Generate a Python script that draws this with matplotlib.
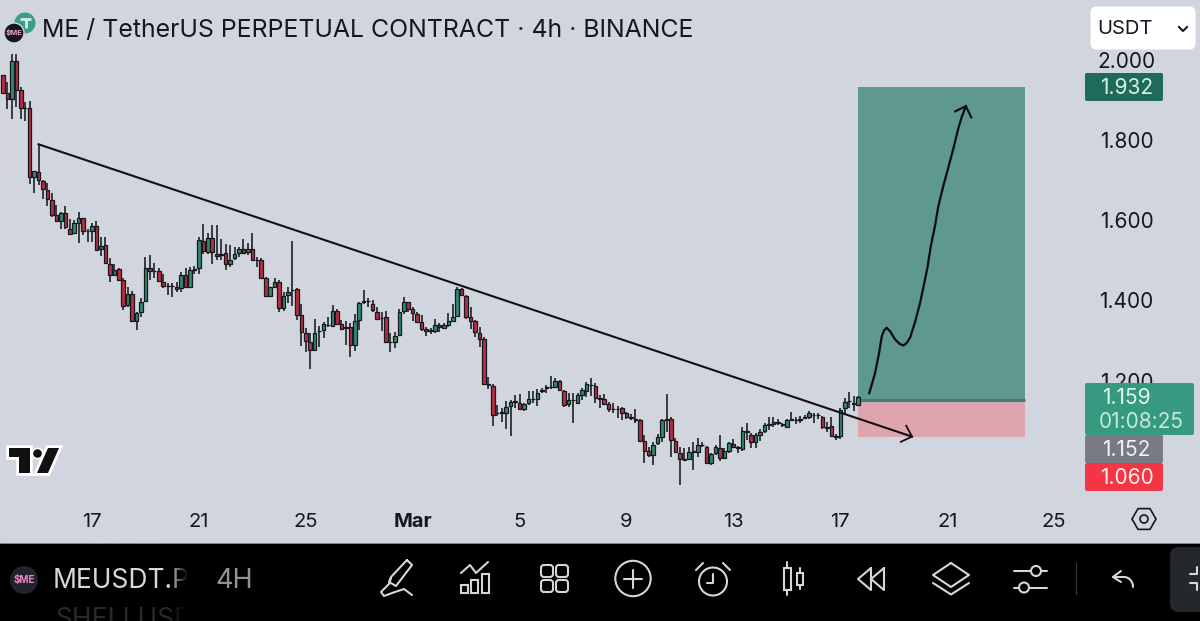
import numpy as np
import matplotlib
matplotlib.use("Agg")
import matplotlib.pyplot as plt
from matplotlib.patches import Circle, FancyBboxPatch, Polygon, Rectangle
from matplotlib.transforms import blended_transform_factory

plt.rcParams['font.family'] = ['Inter', 'DejaVu Sans']

# 4h candles
opens = [1.962,1.918,1.903,1.997,1.925,1.881,1.881,1.709,1.722,1.699,1.677,1.651,1.614,1.600,1.619,1.580,1.570,1.595,1.607,1.575,
         1.573,1.586,1.528,1.538,1.493,1.464,1.480,1.453,1.389,1.417,1.351,1.373,1.400,1.482,1.475,1.475,1.447,1.437,1.437,1.429,
         1.431,1.464,1.435,1.478,1.481,1.549,1.522,1.556,1.518,1.514,1.520,1.492,1.506,1.520,1.528,1.521,1.529,1.503,1.502,1.458,
         1.412,1.435,1.448,1.383,1.414,1.426,1.429,1.366,1.321,1.298,1.277,1.325,1.327,1.340,1.337,1.374,1.342,1.334,1.336,1.289,
         1.352,1.399,1.400,1.392,1.372,1.358,1.359,1.298,1.297,1.314,1.375,1.396,1.379,1.367,1.348,1.331,1.327,1.325,1.341,1.333,
         1.340,1.351,1.362,1.429,1.413,1.361,1.350,1.321,1.304,1.192,1.189,1.122,1.122,1.120,1.138,1.149,1.146,1.130,1.145,1.156,
         1.156,1.177,1.185,1.185,1.186,1.200,1.176,1.142,1.153,1.146,1.165,1.176,1.190,1.189,1.157,1.155,1.143,1.131,1.131,1.132,
         1.120,1.110,1.105,1.103,1.051,1.026,1.016,1.045,1.062,1.105,1.107,1.051,1.022,1.005,1.007,1.025,1.024,1.041,1.037,0.997,
         1.020,1.034,1.008,1.027,1.043,1.035,1.030,1.075,1.067,1.049,1.066,1.076,1.093,1.093,1.098,1.092,1.087,1.105,1.103,1.105,
         1.110,1.111,1.116,1.117,1.111,1.085,1.088,1.063,1.063,1.132,1.150,1.145,1.141]
highs = [1.962,1.946,2.016,2.016,1.932,1.896,1.898,1.723,1.790,1.701,1.694,1.669,1.639,1.622,1.637,1.605,1.601,1.622,1.607,1.580,
         1.595,1.599,1.560,1.560,1.506,1.492,1.482,1.456,1.435,1.425,1.373,1.406,1.510,1.514,1.495,1.483,1.466,1.445,1.444,1.448,
         1.473,1.481,1.485,1.487,1.560,1.591,1.570,1.589,1.589,1.553,1.541,1.539,1.535,1.535,1.554,1.545,1.570,1.510,1.506,1.460,
         1.435,1.456,1.453,1.423,1.435,1.549,1.431,1.391,1.333,1.321,1.354,1.337,1.348,1.359,1.390,1.380,1.352,1.350,1.344,1.367,
         1.398,1.428,1.406,1.402,1.385,1.373,1.375,1.320,1.323,1.381,1.409,1.398,1.385,1.373,1.365,1.336,1.333,1.354,1.344,1.346,
         1.369,1.392,1.435,1.431,1.414,1.385,1.352,1.336,1.309,1.211,1.193,1.140,1.132,1.151,1.153,1.165,1.168,1.146,1.176,1.175,
         1.180,1.182,1.190,1.213,1.207,1.203,1.179,1.171,1.170,1.170,1.182,1.199,1.209,1.195,1.165,1.167,1.149,1.145,1.138,1.135,
         1.124,1.118,1.130,1.105,1.066,1.037,1.049,1.068,1.107,1.167,1.110,1.058,1.037,1.033,1.035,1.049,1.058,1.049,1.038,1.022,
         1.041,1.067,1.033,1.049,1.055,1.038,1.085,1.095,1.072,1.072,1.080,1.097,1.110,1.110,1.105,1.097,1.105,1.124,1.110,1.113,
         1.116,1.126,1.121,1.122,1.113,1.099,1.111,1.068,1.132,1.157,1.174,1.163,1.163]
lows = [1.917,1.879,1.852,1.883,1.853,1.849,1.691,1.668,1.688,1.653,1.637,1.609,1.597,1.578,1.580,1.564,1.566,1.543,1.564,1.547,
        1.546,1.525,1.512,1.493,1.448,1.462,1.452,1.377,1.384,1.348,1.327,1.361,1.398,1.453,1.456,1.448,1.431,1.414,1.410,1.423,
        1.423,1.431,1.431,1.468,1.467,1.518,1.518,1.493,1.502,1.502,1.477,1.485,1.502,1.510,1.518,1.514,1.499,1.485,1.456,1.410,
        1.410,1.431,1.373,1.375,1.394,1.387,1.352,1.287,1.273,1.230,1.276,1.284,1.307,1.336,1.336,1.340,1.327,1.290,1.261,1.276,
        1.327,1.392,1.385,1.373,1.352,1.326,1.296,1.273,1.282,1.312,1.367,1.373,1.351,1.344,1.326,1.312,1.317,1.321,1.323,1.329,
        1.336,1.348,1.359,1.412,1.356,1.331,1.309,1.286,1.190,1.180,1.089,1.113,1.099,1.082,1.063,1.132,1.128,1.126,1.141,1.145,
        1.138,1.171,1.170,1.180,1.182,1.175,1.135,1.136,1.097,1.143,1.153,1.161,1.163,1.146,1.134,1.141,1.124,1.121,1.109,1.103,
        1.105,1.103,1.095,1.049,0.997,1.012,0.991,1.041,1.049,1.074,1.010,1.022,0.941,1.002,1.005,0.980,1.010,1.035,0.995,0.991,
        1.016,1.000,1.005,1.022,1.033,1.020,1.027,1.053,1.033,1.033,1.052,1.072,1.078,1.085,1.091,1.085,1.085,1.101,1.093,1.097,
        1.105,1.107,1.097,1.107,1.082,1.074,1.062,1.053,1.055,1.118,1.132,1.126,1.139]
closes = [1.918,1.903,1.997,1.925,1.881,1.880,1.709,1.723,1.701,1.678,1.654,1.615,1.599,1.620,1.583,1.566,1.595,1.606,1.575,1.574,
          1.586,1.527,1.537,1.495,1.464,1.478,1.453,1.388,1.417,1.351,1.370,1.398,1.482,1.475,1.474,1.450,1.437,1.436,1.436,1.434,
          1.464,1.435,1.477,1.479,1.551,1.525,1.557,1.521,1.512,1.518,1.492,1.503,1.517,1.528,1.520,1.528,1.502,1.502,1.458,1.412,
          1.434,1.448,1.383,1.412,1.423,1.427,1.366,1.323,1.300,1.277,1.321,1.326,1.342,1.339,1.374,1.342,1.329,1.333,1.289,1.350,
          1.394,1.398,1.399,1.377,1.355,1.357,1.298,1.297,1.313,1.373,1.396,1.380,1.369,1.348,1.331,1.325,1.326,1.341,1.334,1.340,
          1.350,1.361,1.429,1.414,1.361,1.351,1.323,1.304,1.193,1.191,1.116,1.121,1.123,1.135,1.149,1.150,1.130,1.143,1.156,1.155,
          1.171,1.176,1.184,1.186,1.201,1.178,1.141,1.153,1.152,1.165,1.178,1.193,1.191,1.157,1.156,1.143,1.131,1.130,1.130,1.121,
          1.110,1.109,1.104,1.051,1.027,1.016,1.041,1.060,1.103,1.104,1.053,1.024,1.005,1.004,1.024,1.024,1.041,1.040,0.997,1.019,
          1.037,1.008,1.027,1.045,1.035,1.034,1.077,1.074,1.049,1.067,1.074,1.091,1.092,1.099,1.097,1.093,1.103,1.104,1.104,1.104,
          1.109,1.120,1.115,1.116,1.085,1.084,1.063,1.062,1.128,1.149,1.151,1.144,1.160]

# trendline and hand drawn arrows
trend_x = [8, 204.1]
trend_y = [1.790, 1.062]
trend_head_x = [201.6, 204.1, 202.8]
trend_head_y = [1.049, 1.062, 1.089]
curve_x = [194.5,195.8,196.7,197.3,197.8,198.4,199.2,200.3,201.3,202.2,202.9,203.7,204.8,205.9,207.0,207.6,208.3,209.3,210.0,211.1,212.3,213.4,214.5,215.3,216.2]
curve_y = [1.170,1.220,1.270,1.311,1.326,1.333,1.324,1.304,1.293,1.289,1.295,1.309,1.348,1.394,1.452,1.485,1.535,1.589,1.635,1.685,1.734,1.780,1.830,1.859,1.885]
curve_head_x = [213.8, 216.2, 217.4]
curve_head_y = [1.872, 1.885, 1.857]

# long position tool
pos_start = 192
pos_end = 229.5
target = 1.932
entry = 1.152
stop = 1.060

x_ticks = [20, 44, 68, 92, 116, 140, 164, 188, 212, 236]
x_labels = ["17", "21", "25", "Mar", "5", "9", "13", "17", "21", "25"]
y_ticks = [2.0, 1.8, 1.6, 1.4, 1.2]
y_labels = ["2.000", "1.800", "1.600", "1.400", "1.200"]

BG = "#d1d5de"
UP = "#2f8a72"
DOWN = "#b92c42"
INK = "#131722"
ICON = "#d6d6d6"

fig = plt.figure(figsize=(12, 6.21), dpi=100, facecolor=BG)

# price chart fills the whole picture, scales fitted to the screenshot
ax = fig.add_axes([0, 0, 1, 1], facecolor=BG)
ax.set_xlim(-0.658, 268.76)
ax.set_ylim(0.6027, 2.1494)
ax.axis("off")

# pixel axes for the app chrome
ui = fig.add_axes([0, 0, 1, 1], facecolor="none")
ui.set_xlim(0, 1200)
ui.set_ylim(621, 0)
ui.axis("off")

# position boxes
ax.add_patch(Rectangle((pos_start, entry), pos_end - pos_start, target - entry, fc="#5e9890", ec="none", zorder=1))
ax.add_patch(Rectangle((pos_start, stop), pos_end - pos_start, entry - stop, fc="#dfa5af", ec="none", zorder=1))
ax.plot([pos_start, pos_end], [entry, entry], color="#3f7f74", lw=2.2, solid_capstyle="butt", zorder=1.5)

# candles
idx = np.arange(len(opens))
opens_a = np.array(opens)
closes_a = np.array(closes)
colors = [UP if c >= o else DOWN for o, c in zip(opens, closes)]
ax.vlines(idx, lows, highs, color="#15181d", lw=1.15, zorder=2)
ax.bar(idx, closes_a - opens_a, bottom=opens_a, width=0.8, color=colors, edgecolor="#15181d", linewidth=0.9, zorder=3)

# drawings
ax.plot(trend_x, trend_y, color="#111111", lw=1.5, zorder=4)
ax.plot(trend_head_x, trend_head_y, color="#111111", lw=1.3, zorder=4)
ax.plot(curve_x, curve_y, color="#0c0c0c", lw=1.6, solid_joinstyle="round", zorder=4)
ax.plot(curve_head_x, curve_head_y, color="#0c0c0c", lw=1.5, zorder=4)

# axis labels
y_tr = blended_transform_factory(ui.transData, ax.transData)
for t, lab in zip(y_ticks, y_labels):
    ax.text(1126.5, t - 0.004, lab, transform=y_tr, ha="center", va="center", fontsize=15, color=INK, zorder=5)
x_tr = blended_transform_factory(ax.transData, ui.transData)
for t, lab in zip(x_ticks, x_labels):
    ax.text(t, 522, lab, transform=x_tr, ha="center", va="center", fontsize=14.5, color=INK,
            fontweight="bold" if lab == "Mar" else "normal", zorder=5)

# title and logos
ui.text(42, 30, "ME / TetherUS PERPETUAL CONTRACT · 4h · BINANCE", ha="left", va="center", fontsize=17.9, color=INK)
ui.add_patch(Circle((25, 23), 10.5, fc="#3a9d86", ec="none"))
ui.plot([20, 31], [19, 19], color="#d6ebe6", lw=2, solid_capstyle="butt")
ui.plot([25.5, 25.5], [19, 28], color="#d6ebe6", lw=2, solid_capstyle="butt")
ui.add_patch(Circle((14, 33), 10, fc="#16161c", ec=BG, lw=1))
ui.text(14, 33, "$ME", ha="center", va="center", fontsize=5.5, color="#e8a0c8", fontweight="bold")

# tradingview mark
tv_t = [(9, 448), (30, 448), (30, 473), (19, 473), (19, 457), (9, 457)]
tv_s = [(48, 448), (59, 448), (48, 473), (37, 473)]
for pts in (tv_t, tv_s):
    ui.add_patch(Polygon(pts, closed=True, fc="white", ec="white", lw=4, joinstyle="miter"))
ui.add_patch(Circle((37.5, 453.5), 6, fc="white", ec="none"))
for pts in (tv_t, tv_s):
    ui.add_patch(Polygon(pts, closed=True, fc="#111111", ec="none"))
ui.add_patch(Circle((37.5, 453.5), 4.3, fc="#111111", ec="none"))

# currency dropdown
ui.add_patch(FancyBboxPatch((1094, 10), 98, 36, boxstyle="round,pad=3.5,rounding_size=6", fc="white", ec="none", zorder=6))
ui.text(1097, 29.5, "USDT", ha="left", va="center", fontsize=14.5, color=INK, zorder=7)
ui.plot([1179, 1183, 1187], [27, 31, 27], color=INK, lw=1.5, zorder=7)


def label(y0, y1, color, x1=1163):
    ui.add_patch(FancyBboxPatch((1087, y0 + 2), x1 - 1089, y1 - y0 - 4, boxstyle="round,pad=2,rounding_size=2",
                                fc=color, ec="none", zorder=6))


label(73, 101, "#1f6b5a")
ui.text(1126.5, 88.5, "1.932", ha="center", va="center", fontsize=15, color="#d9efe9", zorder=7)
label(435, 463, "#787b86")
ui.text(1126.5, 450, "1.152", ha="center", va="center", fontsize=15, color="#f2f2f4", zorder=7)
label(463, 491, "#f23645")
ui.text(1126.5, 478, "1.060", ha="center", va="center", fontsize=15, color="#fbeaec", zorder=7)
label(383, 435, "#369a80", x1=1194)
ui.text(1126.5, 398.5, "1.159", ha="center", va="center", fontsize=15, color="#e4f4ef", zorder=7)
ui.text(1141.5, 422, "01:08:25", ha="center", va="center", fontsize=15, color="#c6e8de", zorder=7)

# settings hexagon
ang = np.radians(np.arange(0, 360, 60))
ui.add_patch(Polygon(np.c_[1144 + 12 * np.cos(ang), 519 + 12 * np.sin(ang)], closed=True, fc="none", ec=INK, lw=1.2))
ui.add_patch(Circle((1144, 519), 4, fc="none", ec=INK, lw=1.2))

# bottom toolbar
bar = Rectangle((0, 543), 1200, 78, fc="black", ec="none", zorder=8)
ui.add_patch(bar)
Z = 9
# neighbouring tickers of the scrolling list, cut by the bar
ghost_top = ui.text(57, 537, "THEUSDT.P", ha="left", va="center", fontsize=19, color="#2a2a2a", zorder=Z, clip_on=True)
ghost_bot = ui.text(55, 620, "SHELLUSD", ha="left", va="center", fontsize=19, color="#2a2a2a", zorder=Z, clip_on=True)
ghost_top.set_clip_path(bar)
ghost_bot.set_clip_path(bar)
ui.add_patch(Circle((24, 580), 14, fc="#23232b", ec="none", zorder=Z))
ui.text(24, 580, "$ME", ha="center", va="center", fontsize=7, color="#e888c0", fontweight="bold", zorder=Z + 1)
ui.text(53, 581, "MEUSDT.P", ha="left", va="center", fontsize=19, color="#d8d8d8", zorder=Z)
ui.text(215, 581, "4H", ha="left", va="center", fontsize=19.5, color="#929292", zorder=Z)
# ticker text fades out on the right
fade = np.zeros((1, 40, 4))
fade[0, :, 3] = np.linspace(0, 1, 40)
ui.imshow(fade, extent=(168, 188, 621, 545), aspect="auto", zorder=Z + 1)
ui.add_patch(Rectangle((188, 545), 24, 76, fc="black", ec="none", zorder=Z + 1))
ui.set_xlim(0, 1200)
ui.set_ylim(621, 0)
# thin edge above the bar, on top of the fade
ui.plot([0, 1200], [542.5, 542.5], color="#9a9da5", lw=0.6, zorder=Z + 2)


def stroke(xs, ys, lw=1.5):
    ui.plot(xs, ys, color=ICON, lw=lw, solid_capstyle="round", solid_joinstyle="round", zorder=Z)


def ring(x, y, r, lw=1.5):
    ui.add_patch(Circle((x, y), r, fc="black", ec=ICON, lw=lw, zorder=Z))


# pen
stroke([407, 412, 396, 389, 391, 407], [560, 565, 586, 582, 577, 560])
stroke([391, 389, 381, 384, 395, 404, 412], [578, 584, 592, 596, 592, 589, 595])
# indicators
stroke([461, 470, 476, 488], [573, 565, 573, 562])
ui.add_patch(Rectangle((460.5, 585), 7, 8, fc="none", ec=ICON, lw=1.5, zorder=Z))
ui.add_patch(Rectangle((471, 580), 7, 13, fc="none", ec=ICON, lw=1.5, zorder=Z))
ui.add_patch(Rectangle((481.5, 574), 7, 19, fc="none", ec=ICON, lw=1.5, zorder=Z))
# templates
for gx in (541, 556):
    for gy in (565, 580):
        ui.add_patch(FancyBboxPatch((gx + 2, gy + 2), 8, 8, boxstyle="round,pad=2,rounding_size=3",
                                    fc="none", ec=ICON, lw=1.5, zorder=Z))
# plus
ring(633, 578.5, 17.7)
stroke([624, 642], [578.5, 578.5])
stroke([633, 633], [569.5, 587.5])
# alarm
ring(713, 581.5, 14)
stroke([713, 713, 707], [574, 583, 583])
stroke([696, 703], [570, 563])
stroke([723, 730], [563, 570])
# candles
stroke([787, 787], [562, 594.5])
ui.add_patch(Rectangle((783.5, 567.5), 7, 22.5, fc="black", ec=ICON, lw=1.5, zorder=Z))
stroke([800, 800], [567.5, 589])
ui.add_patch(Rectangle((797, 572.5), 6, 12.5, fc="black", ec=ICON, lw=1.5, zorder=Z))
# rewind
stroke([871, 858, 871, 871], [568, 579, 590, 568])
stroke([884, 871, 884, 884], [568, 579, 590, 568])
# layers
stroke([951, 969, 951, 933, 951], [563, 575, 587, 575, 563])
stroke([933, 951, 969], [583, 594.5, 583])
# sliders
stroke([1014, 1031], [571, 571])
stroke([1041, 1047], [571, 571])
ring(1036, 571, 5)
stroke([1014, 1019], [587.5, 587.5])
stroke([1029, 1047], [587.5, 587.5])
ring(1024, 587.5, 5)
# divider and undo
ui.plot([1076, 1076], [563, 593.5], color="#3a3a3a", lw=0.8, zorder=Z)
stroke([1121, 1113, 1121], [571, 577, 582])
t = np.linspace(-np.pi / 2, 0, 12)
stroke(np.r_[1113, 1124 + 9 * np.cos(t)], np.r_[577, 587 + 10 * np.sin(t)])
# side tab
ui.add_patch(FancyBboxPatch((1174, 551), 40, 57, boxstyle="round,pad=4,rounding_size=9", fc="#24272c", ec="none", zorder=Z))
stroke([1190, 1197, 1197], [574, 574, 567])
stroke([1190, 1197, 1197], [583, 583, 590])

fig.savefig("out.png", dpi=100, facecolor=BG)
